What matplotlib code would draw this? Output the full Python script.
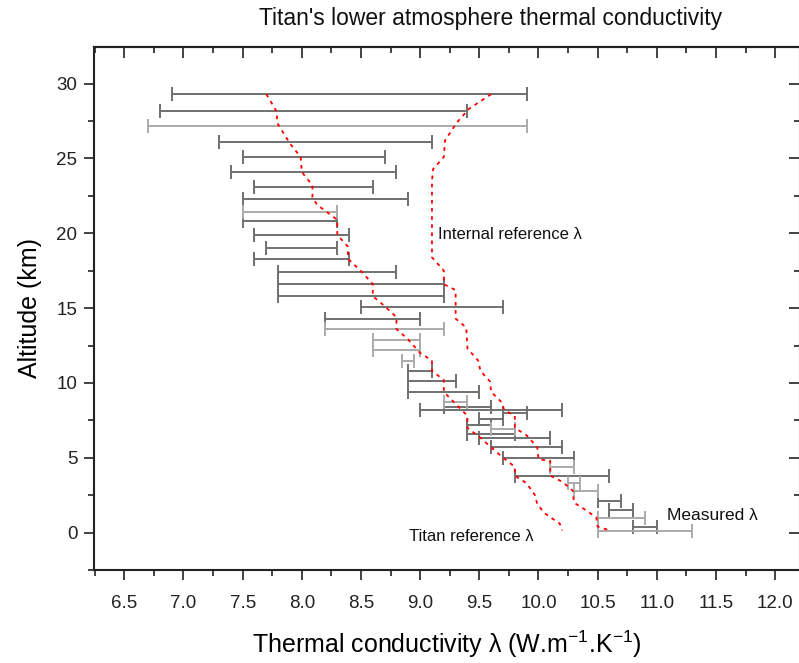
import numpy as np
import matplotlib
matplotlib.use('Agg')
import matplotlib.pyplot as plt
from matplotlib import font_manager
from matplotlib.ticker import MultipleLocator, FormatStrFormatter, NullFormatter

# Measured conductivity ranges (dark bars): altitude km, lower / upper bound
alt_a = [29.3, 28.2, 26.1, 25.1, 24.1, 23.1, 22.3, 20.8, 19.9, 19.0, 18.3,
         17.4, 16.6, 15.8, 15.1, 14.3, 10.8, 10.1, 9.4, 8.4, 8.2, 8.0,
         7.6, 7.2, 6.6, 6.3, 5.7, 5.0, 3.8, 2.1, 1.5, 0.4]
lo_a = [6.9, 6.8, 7.3, 7.5, 7.4, 7.6, 7.5, 7.5, 7.6, 7.7, 7.6,
        7.8, 7.8, 7.8, 8.5, 8.2, 8.9, 8.9, 8.9, 9.2, 9.0, 9.7,
        9.5, 9.4, 9.4, 9.5, 9.6, 9.7, 9.8, 10.5, 10.6, 10.8]
hi_a = [9.9, 9.4, 9.1, 8.7, 8.8, 8.6, 8.9, 8.3, 8.4, 8.3, 8.4,
        8.8, 9.2, 9.2, 9.7, 9.0, 9.1, 9.3, 9.5, 9.6, 10.2, 9.9,
        9.7, 9.6, 9.8, 10.1, 10.2, 10.3, 10.6, 10.7, 10.8, 11.0]

# Measured conductivity ranges (light bars)
alt_b = [27.2, 21.4, 13.6, 12.9, 12.2, 11.5, 8.7, 6.9, 4.4, 3.3, 2.8, 1.0, 0.1]
lo_b = [6.7, 7.5, 8.2, 8.6, 8.6, 8.85, 9.2, 9.6, 10.1, 10.25, 10.3, 10.5, 10.5]
hi_b = [9.9, 8.3, 9.2, 9.0, 9.0, 8.95, 9.4, 9.8, 10.3, 10.35, 10.5, 10.9, 11.3]

# Titan reference profile
titan_alt = [29.3, 28.1, 27.4, 26.0, 25.1, 24.1, 23.2, 22.4, 21.9, 20.9, 19.9,
             19.1, 18.3, 17.4, 16.6, 15.8, 15.2, 14.4, 13.6, 12.9, 12.0, 11.5,
             10.8, 10.2, 9.4, 8.6, 7.8, 7.0, 6.4, 5.7, 5.0, 4.4, 3.8, 3.3,
             2.5, 1.9, 1.3, 0.6, 0.15]
titan_lam = [7.70, 7.79, 7.79, 7.90, 7.99, 8.00, 8.09, 8.09, 8.13, 8.30, 8.30,
             8.39, 8.39, 8.51, 8.60, 8.60, 8.69, 8.80, 8.80, 8.90, 9.00, 9.10,
             9.10, 9.20, 9.20, 9.30, 9.40, 9.40, 9.50, 9.60, 9.70, 9.80, 9.80, 9.90,
             9.97, 9.99, 10.05, 10.18, 10.20]

# Internal reference profile
int_alt = [29.3, 28.3, 27.4, 26.2, 25.1, 24.3, 23.5, 18.4, 17.5, 16.6, 16.2,
           14.3, 13.7, 12.3, 11.5, 10.8, 10.1, 9.4, 8.7, 8.2, 7.8, 7.0, 6.5,
           5.7, 4.9, 4.8, 3.8, 3.4, 2.8, 2.0, 1.5, 1.0, 0.4, 0.15]
int_lam = [9.60, 9.41, 9.31, 9.21, 9.20, 9.11, 9.10, 9.10, 9.20, 9.20, 9.30,
           9.30, 9.39, 9.40, 9.49, 9.51, 9.59, 9.60, 9.69, 9.71, 9.80, 9.80, 9.90,
           9.99, 10.00, 10.10, 10.10, 10.20, 10.29, 10.30, 10.40, 10.49, 10.50, 10.60]

names = {f.name for f in font_manager.fontManager.ttflist}
main_font = 'Liberation Sans' if 'Liberation Sans' in names else 'DejaVu Sans'
plt.rcParams['font.family'] = [main_font, 'DejaVu Sans']

fig = plt.figure(figsize=(7.99, 6.63), dpi=100)
ax = fig.add_axes([94 / 799, 93 / 663, 706 / 799, 523 / 663])


def draw_ranges(alt, lo, hi, color):
    lo = np.array(lo)
    hi = np.array(hi)
    mid = (lo + hi) / 2
    half = (hi - lo) / 2
    ax.errorbar(mid, alt, xerr=half, fmt='none', ecolor=color,
                elinewidth=1.4, capsize=5, capthick=1.4)


draw_ranges(alt_a, lo_a, hi_a, '#707070')
draw_ranges(alt_b, lo_b, hi_b, '#ababab')

ax.plot(titan_lam, titan_alt, color='red', linestyle=(0, (2, 2.5)), linewidth=1.3)
ax.plot(int_lam, int_alt, color='red', linestyle=(0, (2, 2.5)), linewidth=1.3)

ax.text(9.15, 19.9, 'Internal reference λ', fontsize=12, va='center', ha='left',
        color='#111111')
ax.text(8.91, -0.25, 'Titan reference λ', fontsize=12, va='center', ha='left',
        color='#111111')
ax.text(11.09, 1.15, 'Measured λ', fontsize=12.5, va='center', ha='left',
        color='#111111')

ax.set_xlim(6.244, 12.21)
ax.set_ylim(-2.5, 32.45)

ax.xaxis.set_major_locator(MultipleLocator(0.5))
ax.xaxis.set_minor_locator(MultipleLocator(0.25))
ax.xaxis.set_major_formatter(FormatStrFormatter('%.1f'))
ax.yaxis.set_major_locator(MultipleLocator(5))
ax.yaxis.set_minor_locator(MultipleLocator(2.5))

ax.tick_params(which='both', direction='out', width=1.2, colors='#222222')
ax.tick_params(which='major', length=7)
ax.tick_params(which='minor', length=4)
ax.tick_params(axis='x', which='both', labelsize=13.5, pad=11)
ax.tick_params(axis='y', which='both', labelsize=13.5, pad=5)

# mirrored ticks on the top and right sides point into the plot
top = ax.secondary_xaxis('top')
top.xaxis.set_major_locator(MultipleLocator(0.5))
top.xaxis.set_minor_locator(MultipleLocator(0.25))
top.xaxis.set_major_formatter(NullFormatter())
right = ax.secondary_yaxis('right')
right.yaxis.set_major_locator(MultipleLocator(5))
right.yaxis.set_minor_locator(MultipleLocator(2.5))
right.yaxis.set_major_formatter(NullFormatter())
for sec in (top, right):
    sec.tick_params(which='both', direction='in', width=1.2, colors='#222222')
    sec.tick_params(which='major', length=8)
    sec.tick_params(which='minor', length=4.5)
    for s in sec.spines.values():
        s.set_linewidth(1.5)
        s.set_color('#222222')

for s in ax.spines.values():
    s.set_linewidth(1.5)
    s.set_color('#222222')

fig.text(491 / 799, 1 - 18 / 663, "Titan's lower atmosphere thermal conductivity",
         fontsize=16.5, ha='center', va='center', color='#111111')
ax.set_xlabel(r'Thermal conductivity λ (W.m$^{\mathregular{-1}}$.K$^{\mathregular{-1}}$)',
              fontsize=18, labelpad=12)
ax.set_ylabel('Altitude (km)', fontsize=18, labelpad=10)

fig.savefig('out.png', dpi=100)
